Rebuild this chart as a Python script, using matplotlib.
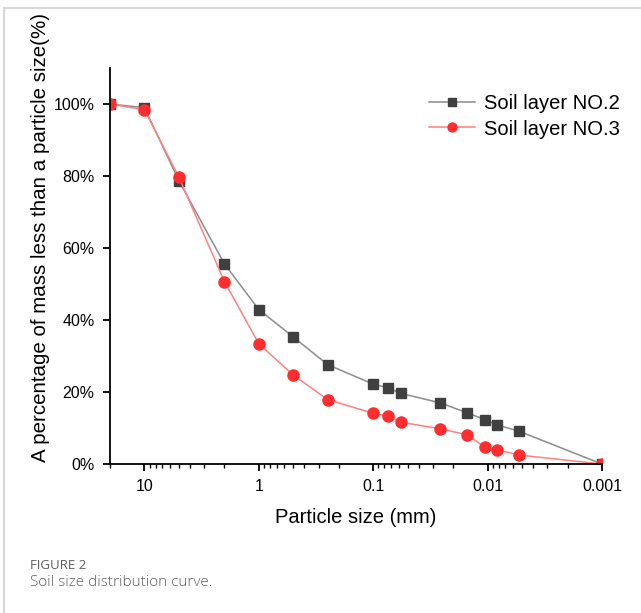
import matplotlib

matplotlib.use("Agg")
import matplotlib.pyplot as plt
from matplotlib.ticker import FixedLocator, FixedFormatter, LogLocator, NullFormatter

plt.rcParams["font.family"] = ["Liberation Sans", "DejaVu Sans"]

# particle size (mm) and passing percentage
sizes = [20, 10, 5, 2, 1, 0.5, 0.25, 0.1, 0.075, 0.057, 0.026, 0.015, 0.0105, 0.0083, 0.0053, 0.001]
layer2 = [100, 99.0, 78.7, 55.6, 42.9, 35.3, 27.6, 22.2, 21.2, 19.6, 17.0, 14.2, 12.3, 10.9, 9.1, 0]
layer3 = [100, 98.4, 79.7, 50.7, 33.4, 24.7, 17.9, 14.1, 13.4, 11.6, 9.8, 8.1, 4.6, 4.0, 2.5, 0]

x_ticks = [10, 1, 0.1, 0.01, 0.001]
x_tick_labels = ["10", "1", "0.1", "0.01", "0.001"]
y_ticks = [0, 20, 40, 60, 80, 100]
y_tick_labels = ["0%", "20%", "40%", "60%", "80%", "100%"]

fig = plt.figure(figsize=(6.41, 6.13), dpi=100)
ax = fig.add_axes([0.1716, 0.243, 0.7676, 0.646])

ax.plot(sizes, layer2, color="#8c8c8c", lw=1.1, marker="s", markersize=7,
        markerfacecolor="#404040", markeredgecolor="#404040", label="Soil layer NO.2")
ax.plot(sizes, layer3, color="#ff8080", lw=1.1, marker="o", markersize=8,
        markerfacecolor="#ff2d2d", markeredgecolor="#ff2d2d", label="Soil layer NO.3")

ax.set_xscale("log")
ax.set_xlim(20, 0.001)
ax.set_ylim(0, 110)

ax.xaxis.set_major_locator(FixedLocator(x_ticks))
ax.xaxis.set_major_formatter(FixedFormatter(x_tick_labels))
ax.xaxis.set_minor_locator(LogLocator(base=10, subs=range(2, 10)))
ax.xaxis.set_minor_formatter(NullFormatter())
ax.yaxis.set_major_locator(FixedLocator(y_ticks))
ax.yaxis.set_major_formatter(FixedFormatter(y_tick_labels))

ax.spines["top"].set_visible(False)
ax.spines["right"].set_visible(False)
for s in ("left", "bottom"):
    ax.spines[s].set_linewidth(1.3)
ax.tick_params(axis="both", which="major", direction="out", length=5, width=1.3, labelsize=11.5, pad=6)
ax.tick_params(axis="x", which="minor", direction="out", length=3, width=1)

ax.set_xlabel("Particle size (mm)", fontsize=14.5, labelpad=10)
ax.set_ylabel("A percentage of mass less than a particle size(%)", fontsize=14.8)
ax.yaxis.set_label_coords(-0.122, 0.573)

leg = ax.legend(loc="upper right", bbox_to_anchor=(1.073, 0.98), frameon=False, fontsize=14.5,
                handlelength=2.3, markerscale=0.8, labelspacing=0.32, handletextpad=0.45)

# caption and page frame
fig.text(0.047, 0.078, "FIGURE 2", fontsize=9.5, color="#5e5e5e", family=["Open Sans", "DejaVu Sans"],
         va="center")
fig.text(0.047, 0.049, "Soil size distribution curve.", fontsize=11, color="#5e5e5e",
         family=["Open Sans", "DejaVu Sans"], va="center", fontweight="light")
fig.add_artist(plt.Line2D([0.006, 1.0], [0.987, 0.987], transform=fig.transFigure, color="#cfcfcf", lw=1.2))
fig.add_artist(plt.Line2D([0.006, 0.006], [0.0, 0.987], transform=fig.transFigure, color="#cfcfcf", lw=1.2))

fig.savefig("out.png", dpi=100)
